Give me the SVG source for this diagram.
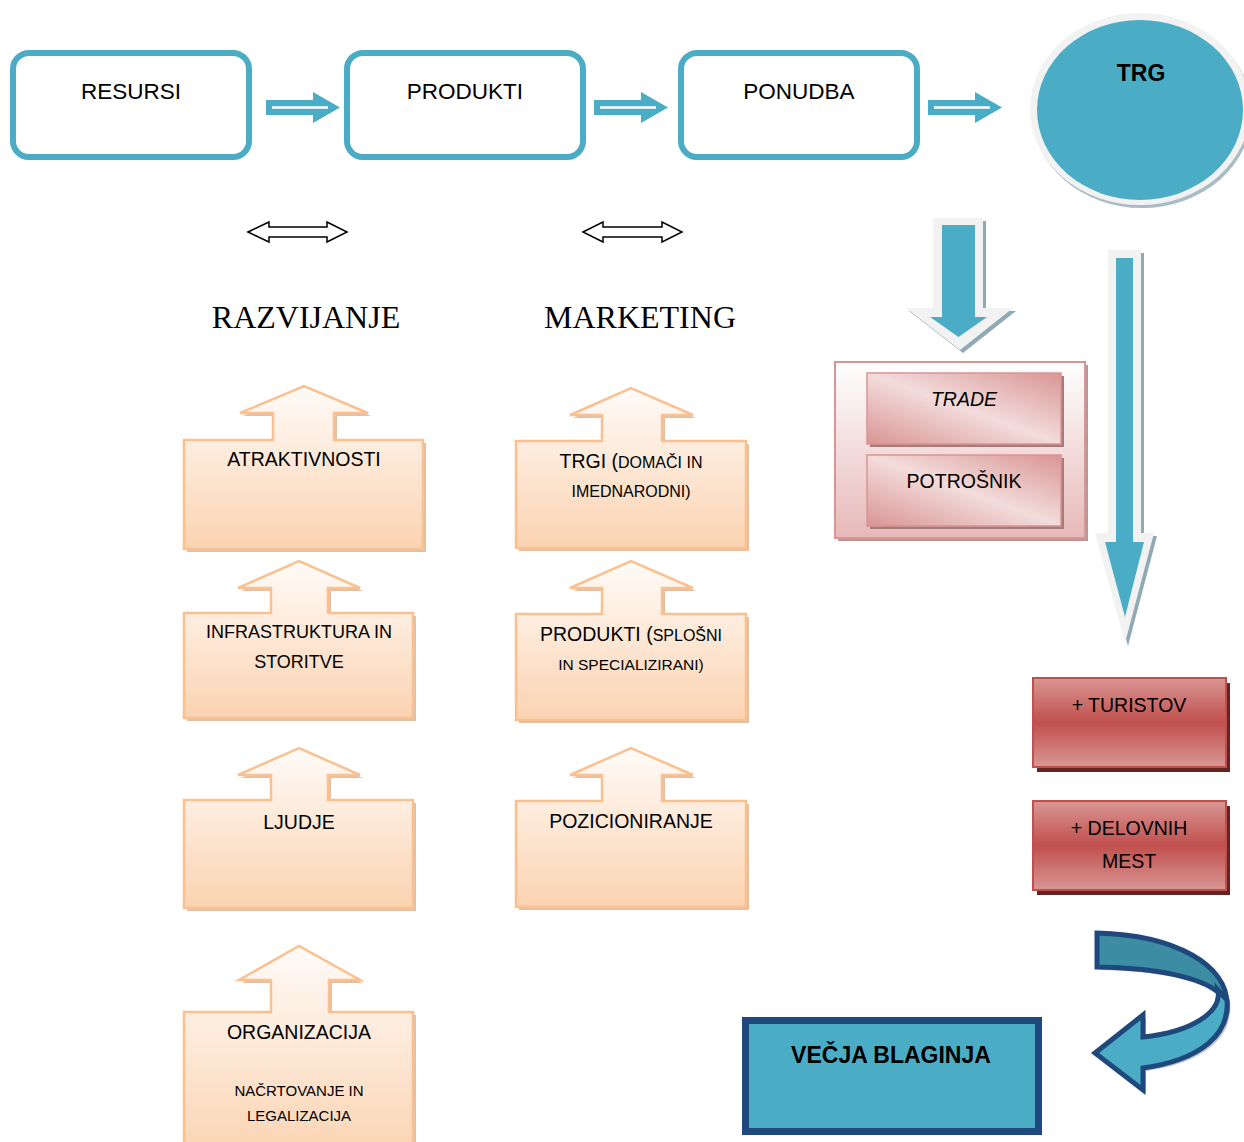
<svg xmlns="http://www.w3.org/2000/svg" width="1244" height="1142" viewBox="0 0 1244 1142">
<style>
.t{font-family:"Liberation Sans",Arial,sans-serif;fill:#000;text-anchor:middle}
.top{font-size:22.5px}
.s{font-size:19.5px}
.sm{font-size:16px}
.b{font-weight:bold;font-size:23px}
.serif{font-family:"Liberation Serif","Times New Roman",serif;font-size:32px;text-anchor:middle}
.topbox{fill:#fff;stroke:#4bacc6;stroke-width:6}
.peach{fill:url(#gPeach);stroke:#fac08f;stroke-width:2.5}
.peachsh{fill:#d9b090;opacity:.8}
.blue{fill:#4bacc6}
.gray{fill:#f2f2f2}
.bsh{fill:#8faab4}
.dbl{fill:#fff;stroke:#000;stroke-width:1.5}
.pinkin{fill:url(#gPink);stroke:#d99594;stroke-width:1.5}
.red{fill:url(#gRed);stroke:#c0504d;stroke-width:2}
</style>
<defs>
<linearGradient id="gPeach" x1="0" y1="0" x2="0" y2="1"><stop offset="0" stop-color="#fffbf8"/><stop offset="1" stop-color="#fbd3b1"/></linearGradient>
<linearGradient id="gPinkOut" x1="0" y1="0" x2="0" y2="1"><stop offset="0" stop-color="#ffffff"/><stop offset="1" stop-color="#e6b9b8"/></linearGradient>
<linearGradient id="gPink" x1="1" y1="0" x2="0" y2="1"><stop offset="0" stop-color="#d99594"/><stop offset="0.5" stop-color="#f2dcdb"/><stop offset="1" stop-color="#d99594"/></linearGradient>
<linearGradient id="gRed" x1="0" y1="0" x2="0" y2="1"><stop offset="0" stop-color="#d99694"/><stop offset="0.5" stop-color="#c0504d"/><stop offset="1" stop-color="#d99694"/></linearGradient>
</defs>
<rect width="1244" height="1142" fill="#fff"/>

<g id="connectors">
  <g>
    <path class="blue" d="M266,100H313V92L340,107.5L313,123V115H266Z"/>
    <path d="M272,107.5H328" stroke="#fff" stroke-width="2.5"/>
    <path class="blue" d="M594,100H641V92L668,107.5L641,123V115H594Z"/>
    <path d="M600,107.5H656" stroke="#fff" stroke-width="2.5"/>
    <path class="blue" d="M928,100H975V92L1002,107.5L975,123V115H928Z"/>
    <path d="M934,107.5H990" stroke="#fff" stroke-width="2.5"/>
  </g>
  <path class="dbl" d="M248,232L269,222V227H327V222L347,232L327,242V237H269V242Z"/>
  <path class="dbl" d="M583,232L603,222V227H662V222L682,232L662,242V237H603V242Z"/>
  <path class="bsh" d="M936,221H986V311H1016L963,353L909,311H936Z"/>
  <path class="gray" d="M933,218H983V308H1013L960,350L906,308H933Z"/>
  <path class="blue" d="M942,225H975V317H987L958.5,337L930,317H942Z"/>
  <path class="bsh" d="M1111,253H1144V536H1157L1128,646L1098,536H1111Z"/>
  <path class="gray" d="M1108,250H1141V533H1154L1125,643L1095,533H1108Z"/>
  <path class="blue" d="M1116,258H1133V542H1144L1125,617L1105,542H1116Z"/>
  <g transform="translate(3,3)" fill="#9aa9b5" opacity=".7">
    <path d="M1097,933C1175,935 1228,965 1227,1005L1218,992C1200,978 1160,968 1097,967Z"/>
    <path d="M1218,990C1222,1012 1192,1032 1143,1037L1143,1015L1095,1053L1143,1090L1143,1068C1200,1060 1230,1035 1227,1000Z"/>
  </g>
  <path d="M1097,933C1175,935 1228,965 1227,1005L1218,992C1200,978 1160,968 1097,967Z" fill="#3c8da3" stroke="#1f497d" stroke-width="5"/>
  <path d="M1218,990C1222,1012 1192,1032 1143,1037L1143,1015L1095,1053L1143,1090L1143,1068C1200,1060 1230,1035 1227,1000Z" fill="#4bacc6" stroke="#1f497d" stroke-width="5"/>
</g>

<g id="resursi">
  <rect class="topbox" x="13" y="53" width="236" height="104" rx="16"/>
  <text class="t top" x="131" y="99">RESURSI</text>
</g>
<g id="produkti-top">
  <rect class="topbox" x="347" y="53" width="236" height="104" rx="16"/>
  <text class="t top" x="465" y="99">PRODUKTI</text>
</g>
<g id="ponudba">
  <rect class="topbox" x="681" y="53" width="236" height="104" rx="16"/>
  <text class="t top" x="799" y="99">PONUDBA</text>
</g>
<g id="trg">
  <ellipse cx="1142" cy="112" rx="110" ry="96" fill="#a9bcc4"/>
  <ellipse cx="1140" cy="109" rx="110" ry="96" fill="#f2f2f2"/>
  <ellipse cx="1140" cy="110" rx="103" ry="90" fill="#4bacc6"/>
  <text class="t b" x="1141" y="81">TRG</text>
</g>

<g id="razvijanje"><text class="serif" x="306" y="328">RAZVIJANJE</text></g>
<g id="marketing"><text class="serif" x="640" y="328">MARKETING</text></g>

<g id="atraktivnosti">
  <path class="peachsh" transform="translate(3,3)" d="M184,440H273V413H240L304,386L368,413H334V440H423V549H184Z"/>
  <path class="peach" d="M184,440H273V413H240L304,386L368,413H334V440H423V549H184Z"/>
  <text class="t s" x="304" y="466">ATRAKTIVNOSTI</text>
</g>
<g id="infrastruktura">
  <path class="peachsh" transform="translate(3,3)" d="M184,613H271V588H238L299,561L360,588H328V613H413V718H184Z"/>
  <path class="peach" d="M184,613H271V588H238L299,561L360,588H328V613H413V718H184Z"/>
  <text class="t" style="font-size:18px" x="299" y="638">INFRASTRUKTURA IN</text>
  <text class="t" style="font-size:18px" x="299" y="668">STORITVE</text>
</g>
<g id="ljudje">
  <path class="peachsh" transform="translate(3,3)" d="M184,800H271V775H238L299,748L360,775H328V800H413V908H184Z"/>
  <path class="peach" d="M184,800H271V775H238L299,748L360,775H328V800H413V908H184Z"/>
  <text class="t s" x="299" y="829">LJUDJE</text>
</g>
<g id="organizacija">
  <path class="peachsh" transform="translate(3,3)" d="M184,1012H271V980H239L299,946L360,980H329V1012H413V1160H184Z"/>
  <path class="peach" d="M184,1012H271V980H239L299,946L360,980H329V1012H413V1160H184Z"/>
  <text class="t s" x="299" y="1039">ORGANIZACIJA</text>
  <text class="t" style="font-size:15px" x="299" y="1096">NAČRTOVANJE IN</text>
  <text class="t" style="font-size:15px" x="299" y="1121">LEGALIZACIJA</text>
</g>

<g id="trgi">
  <path class="peachsh" transform="translate(3,3)" d="M516,441H602V415H570L631,388L693,415H662V441H746V548H516Z"/>
  <path class="peach" d="M516,441H602V415H570L631,388L693,415H662V441H746V548H516Z"/>
  <text class="t s" x="631" y="468">TRGI (<tspan class="sm">DOMAČI IN</tspan></text>
  <text class="t sm" x="631" y="497">IMEDNARODNI)</text>
</g>
<g id="produkti">
  <path class="peachsh" transform="translate(3,3)" d="M516,614H602V588H570L631,561L693,588H662V614H746V720H516Z"/>
  <path class="peach" d="M516,614H602V588H570L631,561L693,588H662V614H746V720H516Z"/>
  <text class="t s" x="631" y="641">PRODUKTI (<tspan class="sm">SPLOŠNI</tspan></text>
  <text class="t" style="font-size:15.5px" x="631" y="670">IN SPECIALIZIRANI)</text>
</g>
<g id="pozicioniranje">
  <path class="peachsh" transform="translate(3,3)" d="M516,801H602V775H570L631,748L693,775H662V801H746V907H516Z"/>
  <path class="peach" d="M516,801H602V775H570L631,748L693,775H662V801H746V907H516Z"/>
  <text class="t s" x="631" y="828">POZICIONIRANJE</text>
</g>

<g id="trade-potrosnik">
  <rect x="838" y="365" width="250" height="176" fill="#b89896"/>
  <rect x="835" y="362" width="250" height="176" fill="url(#gPinkOut)" stroke="#d99594" stroke-width="2"/>
  <g id="trade">
    <rect x="870" y="376" width="194" height="71" fill="#a87a79"/>
    <rect class="pinkin" x="867" y="373" width="194" height="71"/>
    <text class="t s" x="964" y="406" font-style="italic">TRADE</text>
  </g>
  <g id="potrosnik">
    <rect x="870" y="458" width="194" height="71" fill="#a87a79"/>
    <rect class="pinkin" x="867" y="455" width="194" height="71"/>
    <text class="t s" x="964" y="488">POTROŠNIK</text>
  </g>
</g>

<g id="turistov">
  <rect x="1037" y="683" width="193" height="89" fill="#632423"/>
  <rect class="red" x="1033" y="678" width="193" height="89"/>
  <text class="t s" x="1129" y="712">+ TURISTOV</text>
</g>
<g id="delovnih">
  <rect x="1037" y="806" width="193" height="89" fill="#632423"/>
  <rect class="red" x="1033" y="801" width="193" height="89"/>
  <text class="t s" x="1129" y="835">+ DELOVNIH</text>
  <text class="t s" x="1129" y="868">MEST</text>
</g>

<g id="blaginja">
  <rect x="749" y="1024" width="293" height="111" fill="#9aa9b5"/>
  <rect x="745.5" y="1020.5" width="293" height="111" fill="#4bacc6" stroke="#1f497d" stroke-width="7"/>
  <text class="t b" x="891" y="1063">VEČJA BLAGINJA</text>
</g>
</svg>
